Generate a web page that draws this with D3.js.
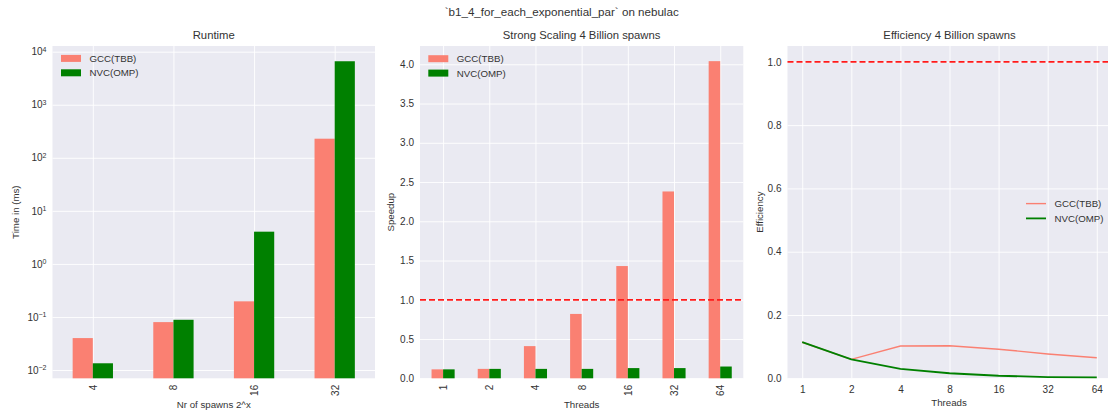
<!DOCTYPE html>
<html><head><meta charset="utf-8">
<script src="https://cdn.jsdelivr.net/npm/d3@7"></script>
<style>
body{margin:0;background:#fff;}
text{font-family:"Liberation Sans",Arial,sans-serif;fill:#333;}
</style></head>
<body><svg id="c" width="1108" height="411"></svg>
<script>
// ---- data ----
const suptitle = "`b1_4_for_each_exponential_par` on nebulac";
const seriesNames = ["GCC(TBB)", "NVC(OMP)"];
const spawnCats = ["4", "8", "16", "32"];
const runtimeGCC = [0.040, 0.080, 0.197, 229];
const runtimeNVC = [0.0134, 0.0885, 4.05, 6600];
const threadCats = ["1", "2", "4", "8", "16", "32", "64"];
const speedupGCC = [0.114, 0.12, 0.41, 0.82, 1.43, 2.38, 4.04];
const speedupNVC = [0.114, 0.12, 0.12, 0.12, 0.13, 0.13, 0.15];
const effGCC = [0.114, 0.060, 0.102, 0.103, 0.092, 0.077, 0.065];
const effNVC = [0.114, 0.060, 0.030, 0.016, 0.008, 0.004, 0.003];
const logTicks = [-2, -1, 0, 1, 2, 3, 4];
const speedTicks = [0, 0.5, 1.0, 1.5, 2.0, 2.5, 3.0, 3.5, 4.0];
const effTicks = [0, 0.2, 0.4, 0.6, 0.8, 1.0];

const colors = ["#FA8072", "#008000"];
const svg = d3.select("#c");
const pTop = 46, pBottom = 378.3;
const bg = "#EAEAF2";

svg.append("text").attr("x", 561.7).attr("y", 16).attr("text-anchor", "middle")
  .style("font-size", "11.6px").text(suptitle);

function panel(x0, x1, title) {
  const g = svg.append("g");
  g.append("rect").attr("x", x0).attr("y", pTop).attr("width", x1 - x0).attr("height", pBottom - pTop).attr("fill", bg);
  g.append("text").attr("x", (x0 + x1) / 2).attr("y", 39).attr("text-anchor", "middle")
    .style("font-size", "11.3px").text(title);
  return g;
}
function ylabel(g, x, text) {
  g.append("text").attr("transform", `translate(${x},${(pTop + pBottom) / 2}) rotate(-90)`)
    .attr("text-anchor", "middle").attr("dominant-baseline", "central").style("font-size", "9.7px").text(text);
}
function xlabel(g, x, y, text) {
  g.append("text").attr("x", x).attr("y", y).attr("text-anchor", "middle").style("font-size", "9.7px").text(text);
}
function styleAxis(ax) {
  ax.select(".domain").remove();
  ax.selectAll(".tick line").attr("stroke", "#fff").attr("stroke-width", 0.9);
  ax.selectAll(".tick text").style("font-size", "10px").attr("fill", "#333");
}
function barLegend(g, x, y) {
  seriesNames.forEach((n, i) => {
    g.append("rect").attr("x", x).attr("y", y + i * 14.4 - 3.5).attr("width", 20).attr("height", 7).attr("fill", colors[i]);
    g.append("text").attr("x", x + 28.5).attr("y", y + i * 14.4).attr("dominant-baseline", "central")
      .style("font-size", "9.7px").text(n);
  });
}
function rotatedXTicks(ax) {
  ax.selectAll(".tick text").attr("transform", "rotate(-90)").attr("text-anchor", "end")
    .attr("x", -6.5).attr("y", 0).attr("dy", "0.35em");
}
function refLine(g, x0, x1, yv) {
  g.append("line").attr("x1", x0).attr("x2", x1).attr("y1", yv).attr("y2", yv)
    .attr("stroke", "#ff1a1a").attr("stroke-width", 1.8).attr("stroke-dasharray", "6,3");
}

// ---- Panel 1: Runtime (log) ----
{
  const x0 = 52.5, x1 = 375;
  const g = panel(x0, x1, "Runtime");
  const x = d3.scaleLinear().domain([-0.5, spawnCats.length - 0.5]).range([x0, x1]);
  const y = d3.scaleLog().domain([Math.pow(10, -2.156), Math.pow(10, 4.107)]).range([pBottom, pTop]);
  const ya = g.append("g").attr("transform", `translate(${x0},0)`)
    .call(d3.axisLeft(y).tickValues(logTicks.map(e => Math.pow(10, e))).tickSize(-(x1 - x0)).tickPadding(6).tickFormat(() => ""));
  styleAxis(ya);
  ya.selectAll(".tick text").each(function(d, i) {
    const t = d3.select(this);
    t.append("tspan").text("10");
    t.append("tspan").attr("dy", "-0.55em").style("font-size", "7px").text(logTicks[i] < 0 ? "\u2212" + (-logTicks[i]) : logTicks[i]);
  });
  const xa = g.append("g").attr("transform", `translate(0,${pBottom})`)
    .call(d3.axisBottom(x).tickValues(d3.range(spawnCats.length)).tickSize(-(pBottom - pTop)).tickFormat(i => spawnCats[i]));
  styleAxis(xa); rotatedXTicks(xa);
  [runtimeGCC, runtimeNVC].forEach((vals, s) => {
    g.selectAll(null).data(vals).enter().append("rect")
      .attr("x", (d, i) => x(i - 0.25 + s * 0.25)).attr("width", x(0.25) - x(0))
      .attr("y", d => y(d)).attr("height", d => pBottom - y(d)).attr("fill", colors[s]);
  });
  barLegend(g, 61, 58.4);
  ylabel(g, 15.5, "Time in (ms)");
  xlabel(g, (x0 + x1) / 2, 408, "Nr of spawns 2^x");
}

// ---- Panel 2: Speedup ----
{
  const x0 = 420, x1 = 743.3;
  const g = panel(x0, x1, "Strong Scaling 4 Billion spawns");
  const x = d3.scaleLinear().domain([-0.5, threadCats.length - 0.5]).range([x0, x1]);
  const y = d3.scaleLinear().domain([0, 4.233]).range([pBottom, pTop]);
  const ya = g.append("g").attr("transform", `translate(${x0},0)`)
    .call(d3.axisLeft(y).tickValues(speedTicks).tickSize(-(x1 - x0)).tickPadding(6).tickFormat(d3.format(".1f")));
  styleAxis(ya);
  const xa = g.append("g").attr("transform", `translate(0,${pBottom})`)
    .call(d3.axisBottom(x).tickValues(d3.range(threadCats.length)).tickSize(-(pBottom - pTop)).tickFormat(i => threadCats[i]));
  styleAxis(xa); rotatedXTicks(xa);
  [speedupGCC, speedupNVC].forEach((vals, s) => {
    g.selectAll(null).data(vals).enter().append("rect")
      .attr("x", (d, i) => x(i - 0.25 + s * 0.25)).attr("width", x(0.25) - x(0))
      .attr("y", d => y(d)).attr("height", d => pBottom - y(d)).attr("fill", colors[s]);
  });
  refLine(g, x0, x1, y(1));
  barLegend(g, 428.3, 58.7);
  ylabel(g, 390.5, "Speedup");
  xlabel(g, (x0 + x1) / 2, 407.5, "Threads");
}

// ---- Panel 3: Efficiency ----
{
  const x0 = 787.5, x1 = 1111.5;
  const g = panel(x0, x1, "Efficiency 4 Billion spawns");
  const x = d3.scaleLinear().domain([-0.3, threadCats.length - 0.7]).range([x0, x1]);
  const y = d3.scaleLinear().domain([0, 1.05]).range([pBottom, pTop]);
  const ya = g.append("g").attr("transform", `translate(${x0},0)`)
    .call(d3.axisLeft(y).tickValues(effTicks).tickSize(-(x1 - x0)).tickPadding(6).tickFormat(d3.format(".1f")));
  styleAxis(ya);
  const xa = g.append("g").attr("transform", `translate(0,${pBottom})`)
    .call(d3.axisBottom(x).tickValues(d3.range(threadCats.length)).tickSize(-(pBottom - pTop)).tickPadding(8).tickFormat(i => threadCats[i]));
  styleAxis(xa);
  refLine(g, x0, x1, y(1));
  const line = d3.line().x((d, i) => x(i)).y(d => y(d));
  [effGCC, effNVC].forEach((vals, s) => {
    g.append("path").datum(vals).attr("d", line).attr("fill", "none")
      .attr("stroke", colors[s]).attr("stroke-width", s ? 1.8 : 1.4);
  });
  seriesNames.forEach((n, i) => {
    const ly = 203.6 + i * 14.8;
    g.append("line").attr("x1", 1026).attr("x2", 1046).attr("y1", ly).attr("y2", ly)
      .attr("stroke", colors[i]).attr("stroke-width", i ? 1.8 : 1.4);
    g.append("text").attr("x", 1054.5).attr("y", ly).attr("dominant-baseline", "central")
      .style("font-size", "9.7px").text(n);
  });
  ylabel(g, 759, "Efficiency");
  xlabel(g, 949, 406, "Threads");
}
</script></body></html>
